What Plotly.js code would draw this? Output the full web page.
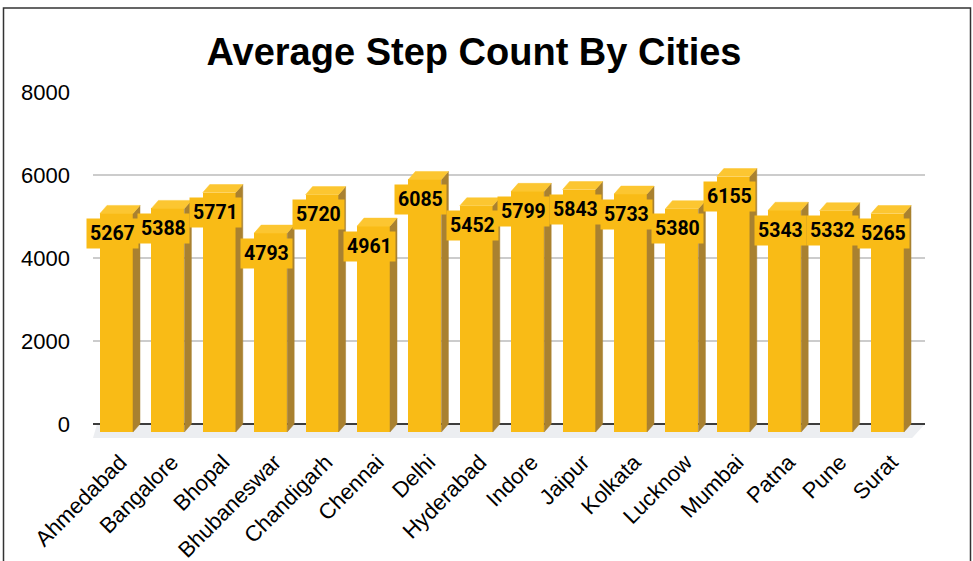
<!DOCTYPE html>
<html>
<head>
<meta charset="utf-8">
<script src="https://cdn.plot.ly/plotly-3.0.1.min.js"></script>
<style>html,body{margin:0;padding:0;background:#fff;}#chart{width:973px;height:561px;}</style>
</head>
<body>
<div id="chart"></div>
<script>
const cities = ["Ahmedabad","Bangalore","Bhopal","Bhubaneswar","Chandigarh","Chennai","Delhi","Hyderabad","Indore","Jaipur","Kolkata","Lucknow","Mumbai","Patna","Pune","Surat"];
const steps = [5267,5388,5771,4793,5720,4961,6085,5452,5799,5843,5733,5380,6155,5343,5332,5265];
const yTicks = [0,2000,4000,6000,8000];

// 3D look parameters (in axis units)
const dx = 0.136;   // depth offset in x
const dy = 193;     // depth offset in y
const w = 0.642;    // front face width

const idx = cities.map((c,i)=>i);
const frontX = idx.map(i => i - dx);

const sideX = [], sideY = [], topX = [], topY = [];
idx.forEach(i => {
  const v = steps[i];
  const fl = frontX[i] - w/2, fr = frontX[i] + w/2;
  sideX.push(fr, fr+dx, fr+dx, fr, fr, null);
  sideY.push(-dy, 0, v, v-dy, -dy, null);
  topX.push(fl, fl+dx, fr+dx, fr, fl, null);
  topY.push(v-dy, v, v, v-dy, v-dy, null);
});

const traces = [
  {type:'bar', x: frontX, y: steps, base: steps.map(()=>-dy), width: w,
   marker:{color:'#f9bb16', line:{width:0}}, hoverinfo:'skip', showlegend:false},
  {type:'scatter', mode:'lines', x: sideX, y: sideY, fill:'toself', fillcolor:'#a98130',
   line:{color:'#a98130', width:0.5}, hoverinfo:'skip', showlegend:false},
  {type:'scatter', mode:'lines', x: topX, y: topY, fill:'toself', fillcolor:'#fcc631',
   line:{color:'#fcc631', width:0.5}, hoverinfo:'skip', showlegend:false}
];

const annotations = idx.map(i => ({
  x: i - 0.214, y: steps[i] - dy - 482, xref:'x', yref:'y',
  text: String(steps[i]), showarrow:false, xanchor:'center', yanchor:'middle',
  font:{family:'Roboto, sans-serif', size:19.5, color:'#000', weight:'bold'},
  bgcolor:'#f9bb16', borderpad:3
}));

const xLeft = -0.593, xRight = 15.593;
const layout = {
  width:973, height:561,
  margin:{l:93, r:48, t:92, b:123},
  paper_bgcolor:'#fff', plot_bgcolor:'#fff',
  title:{text:'<b>Average Step Count By Cities</b>', x:474/973, xanchor:'center', xref:'container',
         y:1-52/561, yref:'container', yanchor:'middle',
         font:{family:'Liberation Sans, Arial, sans-serif', size:38, color:'#000'}},
  xaxis:{range:[xLeft, xRight], tickvals: idx.map(i => i - 0.06), ticktext: cities, tickangle:-45,
         showgrid:false, zeroline:false, showline:false, ticks:'', ticklabelstandoff:6,
         tickfont:{family:'Liberation Sans, Arial, sans-serif', size:22, color:'#000'}, fixedrange:true},
  yaxis:{range:[-337, 8000], tickvals: yTicks, ticks:'', showline:false,
         gridcolor:'#cccccc', gridwidth:2.5, zeroline:true, zerolinecolor:'#3c3c3c', zerolinewidth:2.5,
         ticklabelstandoff:22,
         tickfont:{family:'Liberation Sans, Arial, sans-serif', size:22, color:'#000'}, fixedrange:true},
  bargap:0,
  annotations: annotations,
  shapes:[
    {type:'path', xref:'x', yref:'y', layer:'below',
     path:`M ${xLeft} -337 L ${xRight-0.25} -337 L ${xRight} 0 L ${xLeft+0.08} 0 Z`,
     fillcolor:'#eceef1', line:{width:0}},
    {type:'rect', xref:'paper', yref:'paper', x0:(3.5-93)/832, x1:(970.5-93)/832,
     y0:(438-575)/346, y1:(438-8)/346, line:{color:'#333', width:1.5}, fillcolor:'rgba(0,0,0,0)'}
  ],
  showlegend:false
};

Plotly.newPlot('chart', traces, layout, {displayModeBar:false, staticPlot:true});
</script>
</body>
</html>
